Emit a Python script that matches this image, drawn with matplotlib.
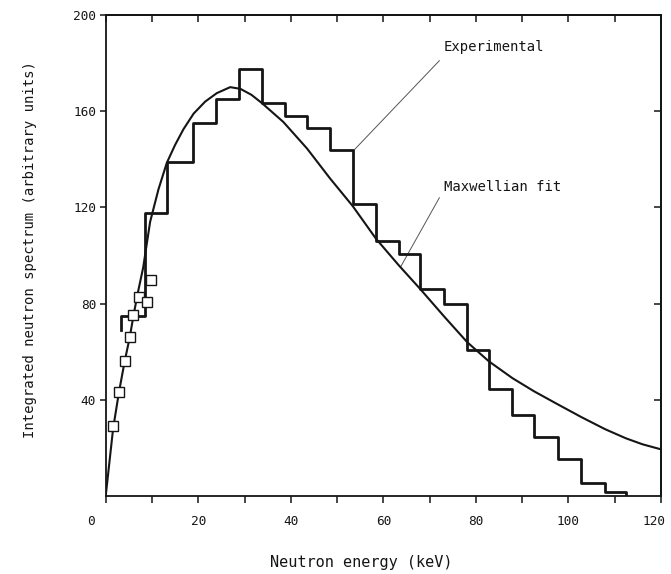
import matplotlib
matplotlib.use("Agg")
import matplotlib.pyplot as plt
import matplotlib.transforms as mtransforms

# ---- data ----
hist_edges = [3.4, 3.4, 8.6, 13.3, 18.8, 23.8, 28.9, 33.8, 38.8, 43.5, 48.5, 53.4,
              58.4, 63.3, 68.0, 73.2, 78.1, 82.8, 87.9, 92.6, 97.8, 102.8,
              107.9, 112.4]
hist_values = [69, 75, 117.5, 139, 155, 165, 177.5, 163.5, 158, 153, 144, 121.5,
               106, 100.5, 86, 80, 60.5, 44.5, 33.5, 24.5, 15.5, 5.5, 1.5, 0]

sq_energy = [1.6, 2.85, 4.1, 5.2, 5.9, 7.2, 8.95, 9.7]
sq_value = [29.3, 43.3, 56.0, 66.0, 75.3, 82.8, 80.7, 89.7]

curve_energy = [0, 1.6, 2.85, 4.1, 5.2, 6.0, 7.0, 8.1, 9.6, 11.4, 13.2, 15.0,
                16.8, 19.0, 21.5, 24.0, 26.9, 29.1, 31.5, 33.8, 38.4, 43.5,
                48.5, 53.4, 58.4, 63.3, 68.0, 73.2, 78.1, 82.8, 87.9, 92.6,
                97.8, 102.8, 107.9, 112.4, 116.0, 120.0]
curve_value = [0, 28, 43, 56, 66, 75, 85, 95, 114, 127.5, 138.5, 146,
               152.5, 159, 164, 167.5, 170, 169.3, 166.8, 163.3, 155.5, 144.5,
               132, 120.5, 107, 96, 86, 74.5, 64, 56, 49, 43.5,
               38, 32.8, 27.8, 24, 21.5, 19.4]

x_ticks = [0, 20, 40, 60, 80, 100, 120]
x_minor = [10, 30, 50, 70, 90, 110]
y_ticks = [40, 80, 120, 160, 200]

label_exp = "Experimental"
label_fit = "Maxwellian fit"
exp_text_pos = (73.1, 186.8)
exp_arrow = [(72.1, 181.0), (53.5, 143.5)]
fit_text_pos = (73.1, 128.4)
fit_arrow = [(72.1, 124.0), (63.8, 95.5)]

# ---- figure ----
W, H = 671, 574
fig = plt.figure(figsize=(W / 100, H / 100), dpi=100)
L, R, B, T = 105.7, 661.0, 496.0, 15.0
ax = fig.add_axes([L / W, 1 - B / H, (R - L) / W, (B - T) / H])

ink = "#151515"
mono = "DejaVu Sans Mono"

ax.plot(curve_energy, curve_value, color=ink, lw=1.5, solid_capstyle="round",
        solid_joinstyle="round", zorder=3)
ax.plot(hist_edges, hist_values, drawstyle="steps-post", color=ink, lw=2.0,
        zorder=4)
ax.plot(sq_energy, sq_value, linestyle="none", marker="s", markersize=7,
        markerfacecolor="white", markeredgecolor=ink, markeredgewidth=1.0,
        zorder=5)

# annotations
ax.plot([p[0] for p in exp_arrow], [p[1] for p in exp_arrow], color="#555555",
        lw=0.7, zorder=2)
ax.plot([p[0] for p in fit_arrow], [p[1] for p in fit_arrow], color="#555555",
        lw=0.7, zorder=2)
ax.text(*exp_text_pos, label_exp, family=mono, fontsize=10, color=ink,
        ha="left", va="center")
ax.text(*fit_text_pos, label_fit, family=mono, fontsize=10, color=ink,
        ha="left", va="center")

ax.set_xlim(0, 120)
ax.set_ylim(0, 200)

for s in ax.spines.values():
    s.set_linewidth(1.3)
    s.set_color(ink)

# bottom/left ticks: outward with labels
ax.set_xticks(x_ticks)
ax.set_xticks(x_minor, minor=True)
ax.set_yticks(y_ticks)
ax.set_xticklabels([str(v) for v in x_ticks])
ax.set_yticklabels([str(v) for v in y_ticks])
ax.tick_params(axis="x", which="both", direction="out", length=5, width=1.1,
               pad=9, labelsize=9.2, colors=ink)
ax.tick_params(axis="y", which="both", direction="out", length=4, width=1.1,
               pad=3, labelsize=9.2, colors=ink)
for lbl in ax.get_xticklabels() + ax.get_yticklabels():
    lbl.set_family(mono)

# top/right ticks: inward, no labels
top = ax.secondary_xaxis("top")
top.set_xticks(x_ticks + x_minor)
top.tick_params(direction="in", length=5, width=1.1, labeltop=False, colors=ink)
top.spines["top"].set_linewidth(1.3)
right = ax.secondary_yaxis("right")
right.set_yticks(y_ticks[:-1])
right.tick_params(direction="in", length=5, width=1.1, labelright=False,
                  colors=ink)
right.spines["right"].set_linewidth(1.3)

# shift the first and last x labels as in the reference
xt = ax.xaxis.get_major_ticks()
for tick, dx in ((xt[0], -0.15), (xt[-1], -0.07)):
    lab = tick.label1
    lab.set_transform(lab.get_transform() +
                      mtransforms.ScaledTranslation(dx, 0, fig.dpi_scale_trans))

fig.text(361.5 / W, 1 - 562 / H, "Neutron energy (keV)", family=mono,
         fontsize=11, color=ink, ha="center", va="center")
fig.text(30 / W, 1 - 250 / H, "Integrated neutron spectrum (arbitrary units)",
         family=mono, fontsize=10, color=ink, ha="center", va="center",
         rotation=90)

fig.savefig("out.png", dpi=100, facecolor="white")
